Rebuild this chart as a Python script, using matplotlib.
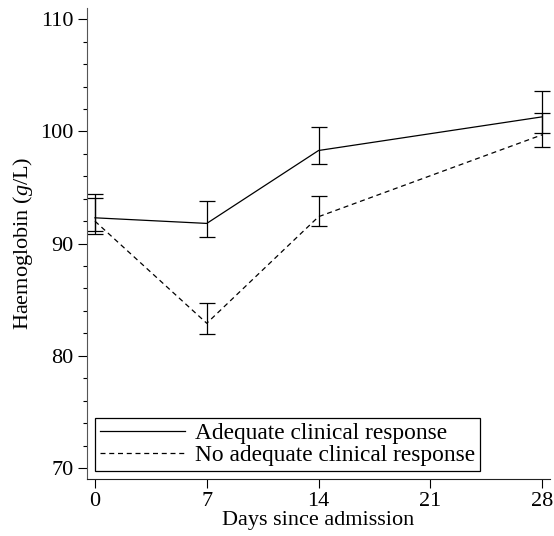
import matplotlib
matplotlib.use('Agg')
import matplotlib.pyplot as plt
import numpy as np
from matplotlib.ticker import MultipleLocator
from matplotlib.lines import Line2D

plt.rcParams['font.family'] = ['Liberation Serif', 'DejaVu Serif']
plt.rcParams['mathtext.fontset'] = 'custom'
plt.rcParams['mathtext.it'] = 'Liberation Serif:italic'
plt.rcParams['mathtext.rm'] = 'Liberation Serif'

# Data
days = [0, 7, 14, 28]

adequate = [92.3, 91.8, 98.3, 101.3]
adequate_low = [91.1, 90.6, 97.1, 99.9]
adequate_high = [94.1, 93.8, 100.4, 103.6]

no_adequate = [92.0, 82.9, 92.4, 99.7]
no_adequate_low = [90.9, 81.9, 91.6, 98.6]
no_adequate_high = [94.4, 84.7, 94.2, 101.6]

xticks = [0, 7, 14, 21, 28]
yticks = [70, 80, 90, 100, 110]

fig = plt.figure(figsize=(5.54, 5.36), dpi=100)
ax = fig.add_axes([0.157, 0.106, 0.836, 0.879])

def plot_series(y, lo, hi, ls, label):
    y = np.array(y)
    err = [y - np.array(lo), np.array(hi) - y]
    ax.errorbar(days, y, yerr=err, color='black', linestyle=ls, linewidth=0.9,
                elinewidth=0.9, capsize=6, capthick=0.9, label=label)

plot_series(adequate, adequate_low, adequate_high, '-', 'Adequate clinical response')
plot_series(no_adequate, no_adequate_low, no_adequate_high, (0, (4, 3)),
            'No adequate clinical response')

ax.set_xlim(-0.5, 28.5)
ax.set_ylim(69, 111)
ax.set_xticks(xticks)
ax.set_yticks(yticks)
ax.yaxis.set_minor_locator(MultipleLocator(2))

ax.spines['top'].set_visible(False)
ax.spines['right'].set_visible(False)
ax.spines['left'].set_color('#555555')
ax.spines['bottom'].set_color('#222222')
ax.tick_params(axis='both', which='major', labelsize=16, length=6.5, width=0.8, pad=3)
ax.tick_params(axis='y', which='minor', length=3, width=0.8)

ax.set_xlabel('Days since admission', fontsize=16, labelpad=0)
ax.set_ylabel('Haemoglobin ($g$/L)', fontsize=16, labelpad=4)

# legend: errorbar handles show bars, use plain lines instead
handles = [Line2D([], [], color='black', linewidth=0.9, linestyle='-'),
           Line2D([], [], color='black', linewidth=0.9, linestyle=(0, (4, 3)))]
leg = ax.legend(handles, ['Adequate clinical response', 'No adequate clinical response'],
                loc='lower left', fontsize=16.8, handlelength=3.65, fancybox=False,
                framealpha=1, edgecolor='black', borderaxespad=0.35,
                labelspacing=0.05, handletextpad=0.45, borderpad=0.2)
leg.get_frame().set_linewidth(0.9)

fig.savefig('out.png', dpi=100)
